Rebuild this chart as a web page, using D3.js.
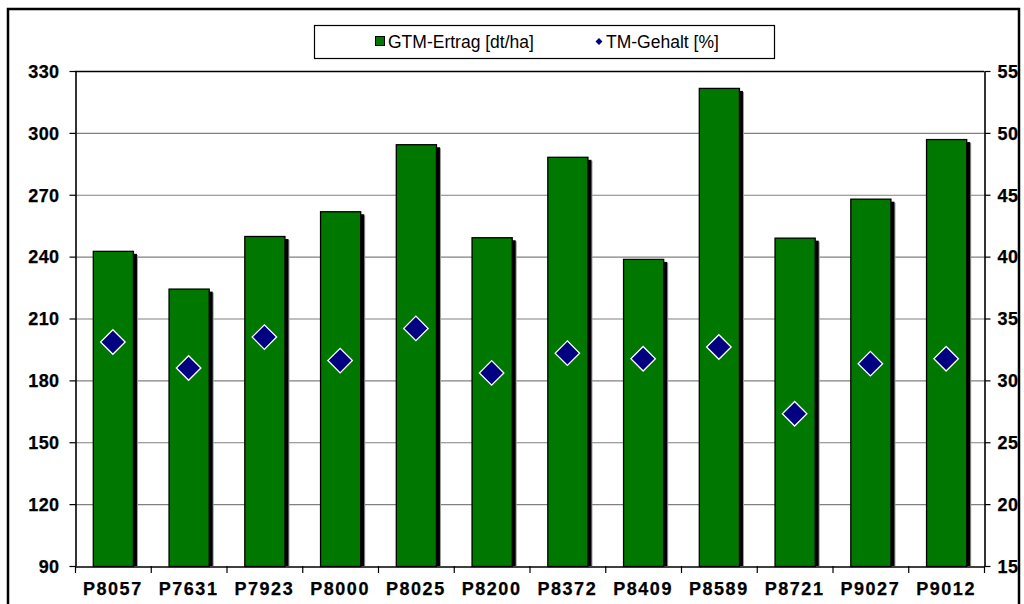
<!DOCTYPE html>
<html><head><meta charset="utf-8">
<script src="https://cdn.jsdelivr.net/npm/d3@7"></script>
<style>html,body{margin:0;padding:0;background:#fff;}svg{display:block;font-family:"Liberation Sans",Arial,sans-serif;}</style>
</head><body>
<svg id="c" width="1024" height="604"></svg>
<script>
const categories = ["P8057","P7631","P7923","P8000","P8025","P8200","P8372","P8409","P8589","P8721","P9027","P9012"];
const ertrag = [242.8, 224.5, 250, 262, 294.5, 249.4, 288.4, 238.9, 321.8, 249.2, 268.1, 297];
const gehalt = [33.1, 31.0, 33.5, 31.6, 34.2, 30.6, 32.2, 31.75, 32.7, 27.3, 31.35, 31.75];
const leftTicks = [90,120,150,180,210,240,270,300,330];
const rightTicks = [15,20,25,30,35,40,45,50,55];
const seriesNames = ["GTM-Ertrag [dt/ha]", "TM-Gehalt [%]"];

const svg = d3.select("#c");
const L = 75, R = 984, T = 71, B = 566;

// outer frame
svg.append("rect").attr("x",8).attr("y",9).attr("width",1011).attr("height",640)
  .attr("fill","none").attr("stroke","#000").attr("stroke-width",2.5);

const x = d3.scaleBand().domain(categories).range([L,R]).paddingInner(0.47).paddingOuter(0.235);
const xb = d3.scaleBand().domain(categories).range([L,R]).padding(0);
const yL = d3.scaleLinear().domain([90,330]).range([B,T]);
const yR = d3.scaleLinear().domain([15,55]).range([B,T]);

// gridlines
svg.append("g").selectAll("line").data(leftTicks.filter(d=>d>90)).join("line")
  .attr("x1",L).attr("x2",R).attr("y1",d=>yL(d)+0.5).attr("y2",d=>yL(d)+0.5)
  .attr("stroke",d=>d===330?"#000":"#808080").attr("stroke-width",d=>d===330?1.5:1.2);

// bars: shadow then bar
const bars = svg.append("g");
bars.selectAll("rect.sh2").data(categories).join("rect").attr("class","sh2")
  .attr("x",(d)=>x(d)+5).attr("y",(d,i)=>yL(ertrag[i])+4)
  .attr("width",x.bandwidth()).attr("height",(d,i)=>B-yL(ertrag[i])-4)
  .attr("fill","#9a9a9a");
bars.selectAll("rect.sh").data(categories).join("rect").attr("class","sh")
  .attr("x",(d)=>x(d)+4).attr("y",(d,i)=>yL(ertrag[i])+3)
  .attr("width",x.bandwidth()).attr("height",(d,i)=>B-yL(ertrag[i])-3)
  .attr("fill","#000");
bars.selectAll("rect.bar").data(categories).join("rect").attr("class","bar")
  .attr("x",(d)=>x(d)+0.5).attr("y",(d,i)=>yL(ertrag[i])+0.5)
  .attr("width",x.bandwidth()).attr("height",(d,i)=>B-yL(ertrag[i]))
  .attr("fill","#007800").attr("stroke","#000").attr("stroke-width",1.3);

// axes
const axL = svg.append("g").attr("transform",`translate(${L+0.5},0)`)
  .call(d3.axisLeft(yL).tickValues(leftTicks).tickSize(6).tickPadding(10).tickSizeOuter(0));
const axR = svg.append("g").attr("transform",`translate(${R+0.5},0)`)
  .call(d3.axisRight(yR).tickValues(rightTicks).tickSize(6).tickPadding(7).tickSizeOuter(0));
const axB = svg.append("g").attr("transform",`translate(0,${B+0.5})`)
  .call(d3.axisBottom(xb).tickSize(0).tickPadding(16).tickSizeOuter(0));
// category boundary ticks
svg.append("g").selectAll("line").data(categories.concat(["__end"])).join("line")
  .attr("x1",(d,i)=>i<categories.length?xb(d)+0.5:R+0.5).attr("x2",(d,i)=>i<categories.length?xb(d)+0.5:R+0.5)
  .attr("y1",B).attr("y2",B+7).attr("stroke","#000").attr("stroke-width",1.2);

[axL,axR,axB].forEach(a=>{
  a.selectAll("path.domain").attr("stroke","#000").attr("stroke-width",1.6);
  a.selectAll(".tick line").attr("stroke","#000").attr("stroke-width",1.2);
  a.selectAll("text").attr("font-family","'Liberation Sans',Arial,sans-serif")
    .attr("font-size",18).attr("font-weight","bold").attr("fill","#000")
    .attr("stroke","#000").attr("stroke-width",0.25);
});
axL.selectAll("text").attr("dy","0.35em").attr("letter-spacing","0.4px");
axR.selectAll("text").attr("dy","0.35em").attr("letter-spacing","0.4px");
axB.selectAll("text").attr("letter-spacing","1.5px");

// markers
const diamond = d3.symbol().type(d3.symbolSquare).size(300);
svg.append("g").selectAll("path").data(categories).join("path")
  .attr("d",diamond)
  .attr("transform",(d,i)=>`translate(${xb(d)+xb.bandwidth()/2},${yR(gehalt[i])}) rotate(45)`)
  .attr("fill","#000080").attr("stroke","#fff").attr("stroke-width",1.3);

// legend
const lg = svg.append("g");
lg.append("rect").attr("x",314.5).attr("y",25.5).attr("width",460).attr("height",33)
  .attr("fill","#fff").attr("stroke","#000").attr("stroke-width",1.2);
lg.append("rect").attr("x",375.5).attr("y",36.5).attr("width",9).attr("height",9)
  .attr("fill","#007800").attr("stroke","#000").attr("stroke-width",1);
lg.append("text").attr("x",388).attr("y",48).attr("font-size",17.5).text(seriesNames[0]);
lg.append("path").attr("d",d3.symbol().type(d3.symbolSquare).size(24))
  .attr("transform","translate(599,41.5) rotate(45)").attr("fill","#000080");
lg.append("text").attr("x",606).attr("y",48).attr("font-size",17.5).text(seriesNames[1]);
</script>
</body></html>
